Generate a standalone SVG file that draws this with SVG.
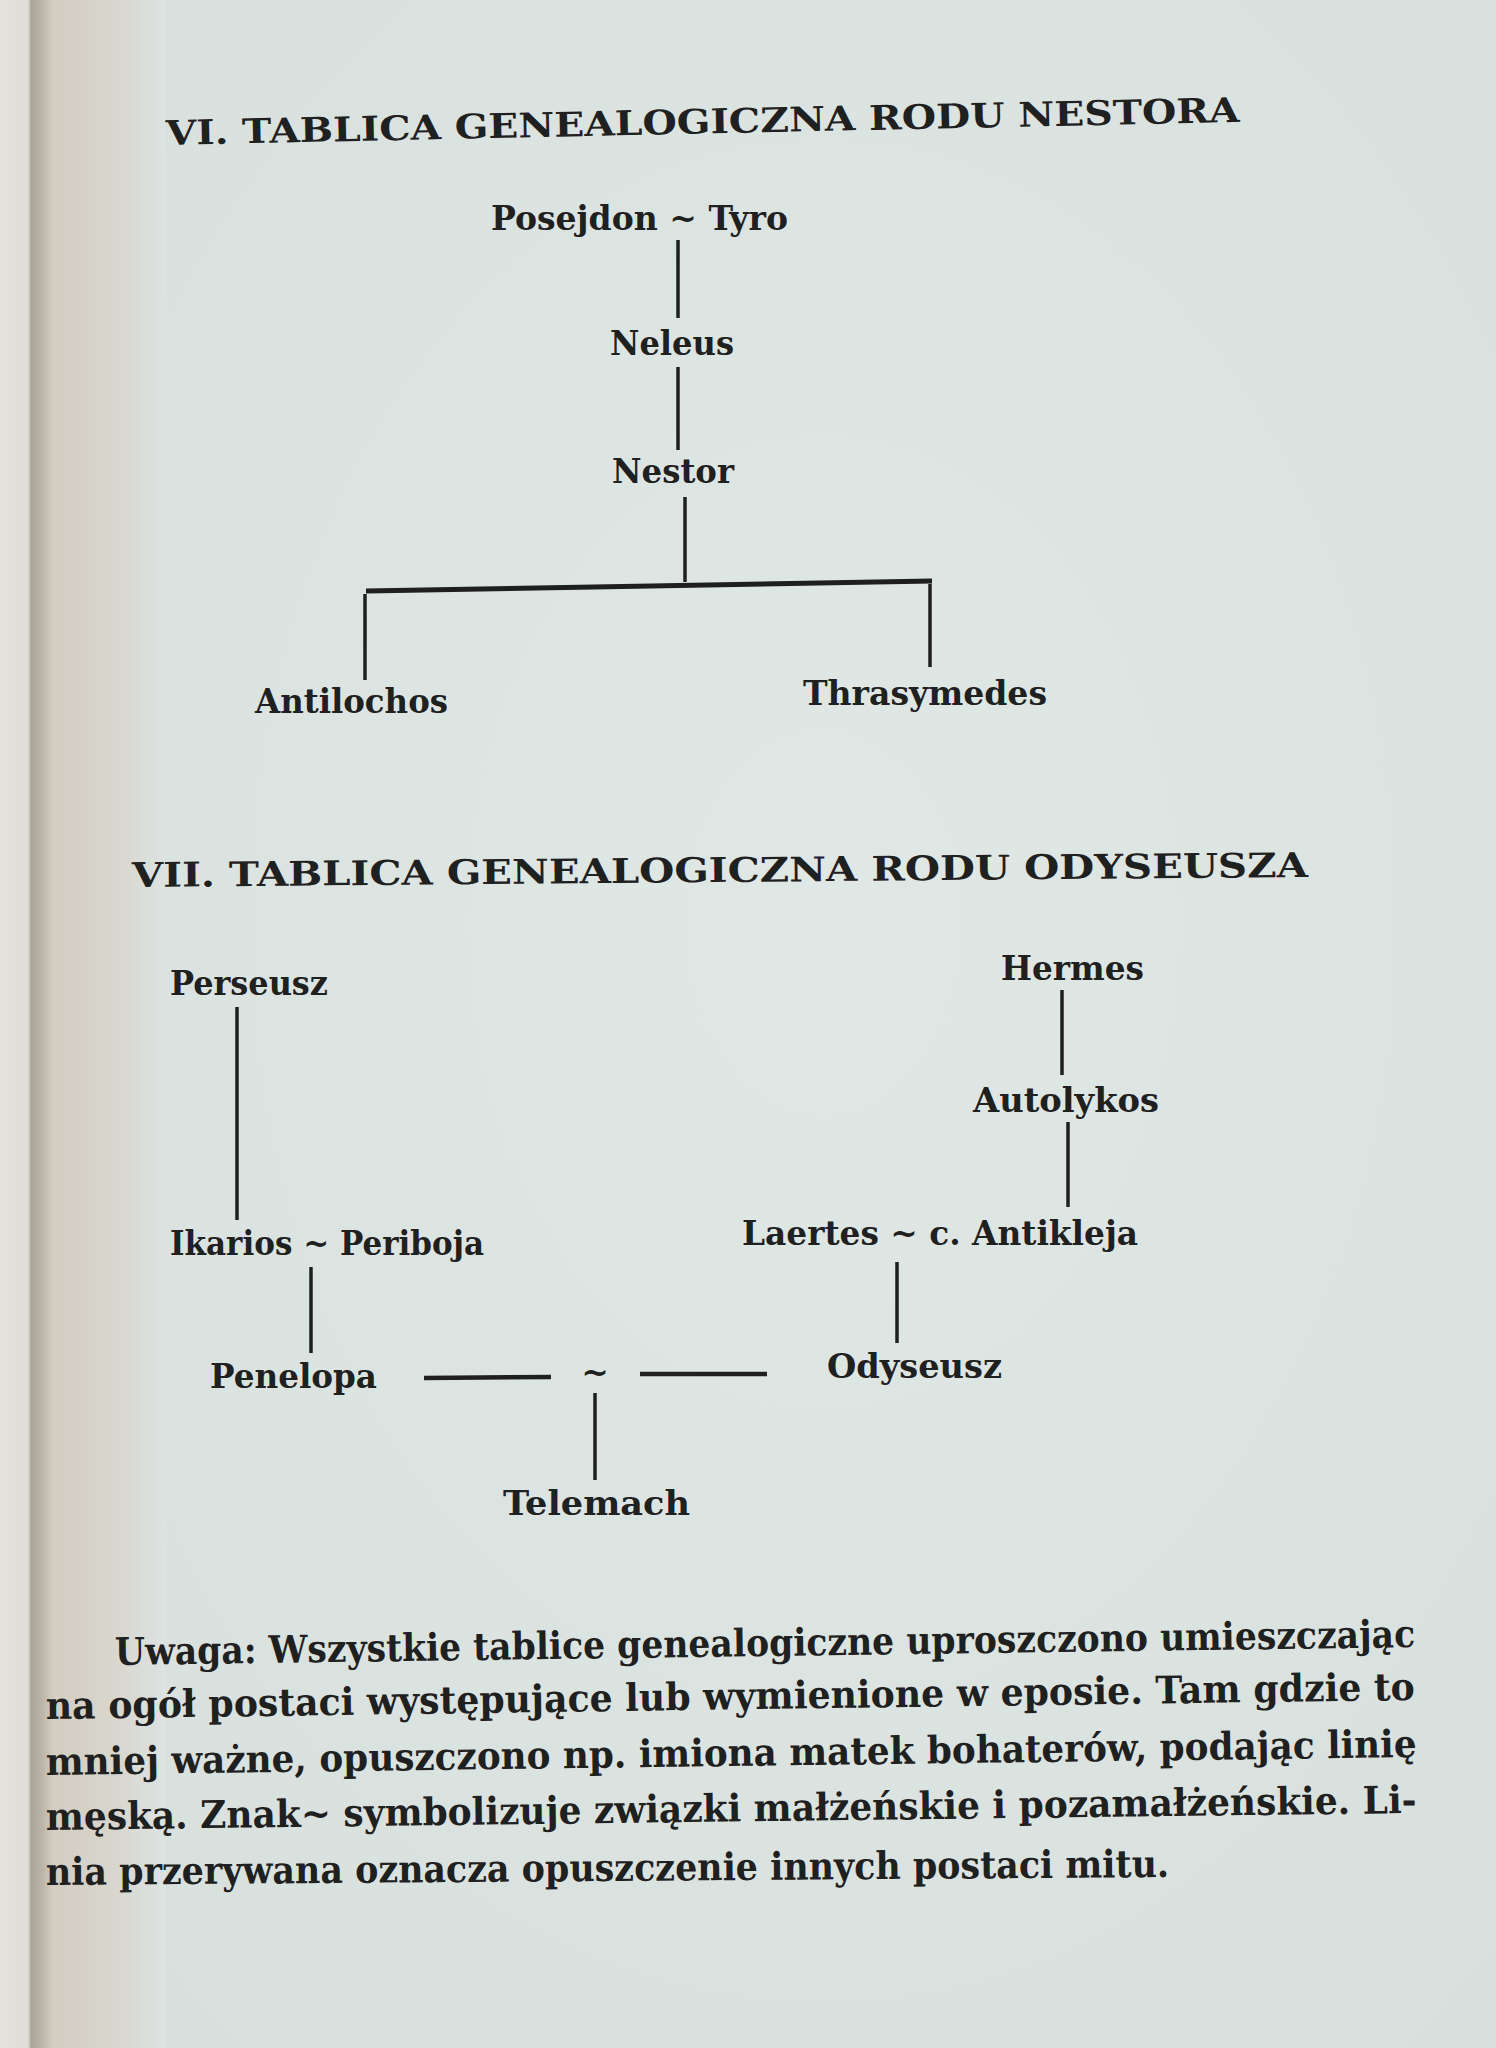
<svg xmlns="http://www.w3.org/2000/svg" width="1496" height="2048" viewBox="0 0 1496 2048">
  <defs>
    <linearGradient id="edge" x1="0" y1="0" x2="1" y2="0" gradientUnits="objectBoundingBox">
      <stop offset="0" stop-color="#e4e2dc"/>
      <stop offset="0.17" stop-color="#e0ddd6"/>
      <stop offset="0.19" stop-color="#a9a398"/>
      <stop offset="0.26" stop-color="#bdb6aa"/>
      <stop offset="0.32" stop-color="#d3cdc2"/>
      <stop offset="0.7" stop-color="#d8d6ce"/>
      <stop offset="1" stop-color="#dce3e1"/>
    </linearGradient>
    <radialGradient id="paper" cx="0.55" cy="0.45" r="0.8">
      <stop offset="0" stop-color="#e0e8e6"/>
      <stop offset="1" stop-color="#d7dfdd"/>
    </radialGradient>
    <style>
      .t { font-family: "DejaVu Serif", "Liberation Serif", serif; font-weight: bold; fill: #1f2020; }
      .title { font-size: 34px; }
      .lbl { font-size: 33px; }
      .par { font-size: 38px; }
      .ln { stroke: #1e1f1f; stroke-width: 3.5; stroke-linecap: butt; fill: none; }
      .bar { stroke: #1e1f1f; stroke-width: 5; fill: none; }
      .dash { stroke: #1e1f1f; stroke-width: 4.5; fill: none; }
    </style>
  </defs>

  <!-- paper -->
  <rect x="0" y="0" width="1496" height="2048" fill="url(#paper)"/>
  <rect x="0" y="0" width="165" height="2048" fill="url(#edge)"/>

  <!-- titles -->
  <g id="title-vi">
    <text class="t title" x="166" y="145" transform="rotate(-1.23 166 145)" textLength="1074" lengthAdjust="spacingAndGlyphs">VI. TABLICA GENEALOGICZNA RODU NESTORA</text>
  </g>
  <g id="title-vii">
    <text class="t title" x="132" y="887" transform="rotate(-0.49 132 887)" textLength="1176" lengthAdjust="spacingAndGlyphs">VII. TABLICA GENEALOGICZNA RODU ODYSEUSZA</text>
  </g>

  <!-- connectors -->
  <g id="connectors">
    <line class="ln" x1="678" y1="240" x2="678" y2="318"/>
    <line class="ln" x1="678" y1="367" x2="678" y2="450"/>
    <line class="ln" x1="685" y1="497" x2="685" y2="582"/>
    <line class="bar" x1="366" y1="591" x2="932" y2="581"/>
    <line class="ln" x1="365" y1="594" x2="365" y2="680"/>
    <line class="ln" x1="930" y1="584" x2="930" y2="667"/>

    <line class="ln" x1="237" y1="1007" x2="237" y2="1220"/>
    <line class="ln" x1="1062" y1="990" x2="1062" y2="1075"/>
    <line class="ln" x1="1068" y1="1122" x2="1068" y2="1207"/>
    <line class="ln" x1="311" y1="1267" x2="311" y2="1353"/>
    <line class="ln" x1="897" y1="1262" x2="897" y2="1343"/>
    <line class="dash" x1="424" y1="1378" x2="551" y2="1377"/>
    <line class="dash" x1="640" y1="1374" x2="767" y2="1374"/>
    <line class="ln" x1="595" y1="1393" x2="595" y2="1480"/>
  </g>

  <!-- tree VI nodes -->
  <g id="n-posejdon-tyro"><text class="t lbl" x="491" y="230" textLength="297" lengthAdjust="spacingAndGlyphs">Posejdon ~ Tyro</text></g>
  <g id="n-neleus"><text class="t lbl" x="610" y="355" textLength="124" lengthAdjust="spacingAndGlyphs">Neleus</text></g>
  <g id="n-nestor"><text class="t lbl" x="612" y="483" textLength="122" lengthAdjust="spacingAndGlyphs">Nestor</text></g>
  <g id="n-antilochos"><text class="t lbl" x="255" y="713" textLength="193" lengthAdjust="spacingAndGlyphs">Antilochos</text></g>
  <g id="n-thrasymedes"><text class="t lbl" x="803" y="705" textLength="244" lengthAdjust="spacingAndGlyphs">Thrasymedes</text></g>

  <!-- tree VII nodes -->
  <g id="n-perseusz"><text class="t lbl" x="170" y="995" textLength="158" lengthAdjust="spacingAndGlyphs">Perseusz</text></g>
  <g id="n-hermes"><text class="t lbl" x="1001" y="980" textLength="143" lengthAdjust="spacingAndGlyphs">Hermes</text></g>
  <g id="n-autolykos"><text class="t lbl" x="973" y="1112" textLength="186" lengthAdjust="spacingAndGlyphs">Autolykos</text></g>
  <g id="n-ikarios-periboja"><text class="t lbl" x="170" y="1255" textLength="314" lengthAdjust="spacingAndGlyphs">Ikarios ~ Periboja</text></g>
  <g id="n-laertes-antikleja"><text class="t lbl" x="742" y="1245" textLength="396" lengthAdjust="spacingAndGlyphs">Laertes ~ c. Antikleja</text></g>
  <g id="n-penelopa"><text class="t lbl" x="210" y="1388" textLength="167" lengthAdjust="spacingAndGlyphs">Penelopa</text></g>
  <g id="n-marriage"><text class="t lbl" x="595" y="1384" text-anchor="middle">~</text></g>
  <g id="n-odyseusz"><text class="t lbl" x="827" y="1378" textLength="175" lengthAdjust="spacingAndGlyphs">Odyseusz</text></g>
  <g id="n-telemach"><text class="t lbl" x="503" y="1515" textLength="187" lengthAdjust="spacingAndGlyphs">Telemach</text></g>

  <!-- note paragraph (horizontally condensed by scale 0.86) -->
  <g id="note">
    <text class="t par" x="0" y="0" transform="translate(115 1665) rotate(-0.79) scale(0.86 1)" textLength="1512" lengthAdjust="spacingAndGlyphs">Uwaga: Wszystkie tablice genealogiczne uproszczono umieszczając</text>
    <text class="t par" x="0" y="0" transform="translate(46 1719) rotate(-0.8) scale(0.86 1)" textLength="1592" lengthAdjust="spacingAndGlyphs">na ogół postaci występujące lub wymienione w eposie. Tam gdzie to</text>
    <text class="t par" x="0" y="0" transform="translate(46 1775) rotate(-0.75) scale(0.86 1)" textLength="1594" lengthAdjust="spacingAndGlyphs">mniej ważne, opuszczono np. imiona matek bohaterów, podając linię</text>
    <text class="t par" x="0" y="0" transform="translate(46 1830) rotate(-0.71) scale(0.86 1)" textLength="1594" lengthAdjust="spacingAndGlyphs">męską. Znak~ symbolizuje związki małżeńskie i pozamałżeńskie. Li-</text>
    <text class="t par" x="0" y="0" transform="translate(46 1885) rotate(-0.41) scale(0.86 1)" textLength="1306" lengthAdjust="spacingAndGlyphs">nia przerywana oznacza opuszczenie innych postaci mitu.</text>
  </g>
</svg>
